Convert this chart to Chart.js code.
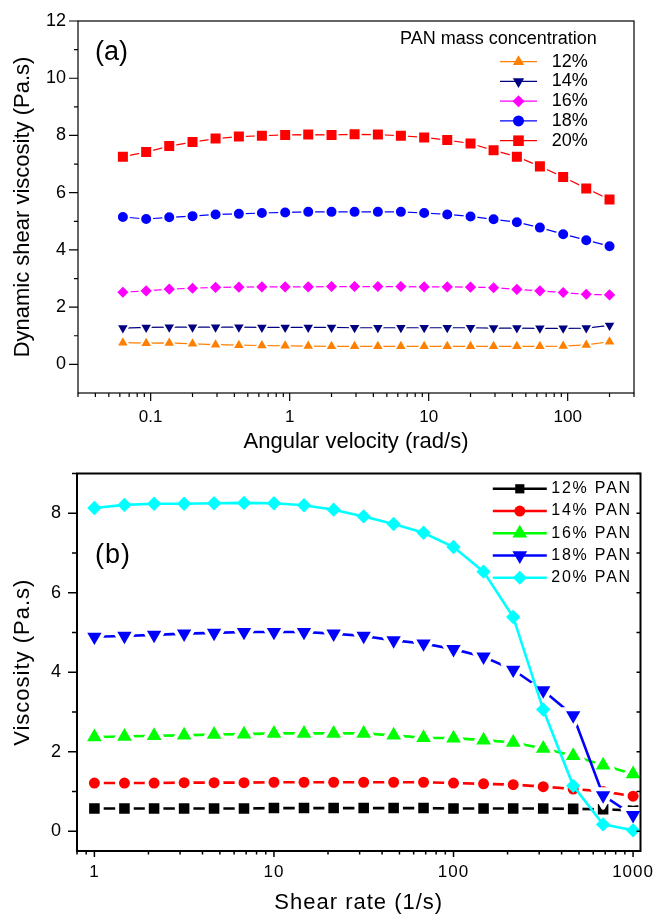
<!DOCTYPE html>
<html>
<head>
<meta charset="utf-8">
<title>PAN solution viscosity</title>
<script src="https://cdn.jsdelivr.net/npm/chart.js"></script>
<style>
  html, body { margin: 0; padding: 0; background: #fff; }
  .panel { position: relative; width: 657px; height: 457px; }
</style>
</head>
<body>
<div class="panel"><canvas id="chart-a"></canvas></div>
<div class="panel"><canvas id="chart-b"></canvas></div>
<script>
// (a) oscillatory sweep: angular velocity (rad/s) vs dynamic shear viscosity (Pa.s)
const angularVelocity = [0.0631, 0.0928, 0.136, 0.2, 0.293, 0.431, 0.631, 0.928, 1.36, 2, 2.93,
  4.31, 6.31, 9.28, 13.6, 20, 29.3, 43.1, 63.1, 92.8, 136, 200];
const dyn12 = [0.76, 0.74, 0.75, 0.72, 0.69, 0.67, 0.66, 0.65, 0.64, 0.63, 0.63, 0.63, 0.63, 0.63, 0.63, 0.63, 0.63, 0.63, 0.63, 0.64, 0.68, 0.79];
const dyn14 = [1.27, 1.29, 1.30, 1.30, 1.30, 1.30, 1.29, 1.29, 1.29, 1.29, 1.28, 1.28, 1.28, 1.28, 1.28, 1.28, 1.27, 1.27, 1.26, 1.26, 1.27, 1.36];
const dyn16 = [2.52, 2.57, 2.63, 2.66, 2.69, 2.70, 2.71, 2.71, 2.71, 2.72, 2.72, 2.72, 2.72, 2.71, 2.71, 2.70, 2.68, 2.62, 2.57, 2.51, 2.45, 2.43];
const dyn18 = [5.15, 5.08, 5.14, 5.18, 5.24, 5.26, 5.29, 5.31, 5.33, 5.33, 5.33, 5.33, 5.33, 5.29, 5.24, 5.17, 5.07, 4.97, 4.78, 4.55, 4.34, 4.13];
const dyn20 = [7.26, 7.42, 7.63, 7.77, 7.89, 7.96, 7.99, 8.02, 8.03, 8.02, 8.04, 8.03, 7.99, 7.93, 7.84, 7.72, 7.48, 7.26, 6.92, 6.55, 6.15, 5.76];
const labelsA = ['12%', '14%', '16%', '18%', '20%'];
const xTicksA = [0.1, 1, 10, 100];
const yTicksA = [0, 2, 4, 6, 8, 10, 12];

// (b) steady shear: shear rate (1/s) vs viscosity (Pa.s)
const shearRate = [1, 1.47, 2.15, 3.16, 4.64, 6.81, 10, 14.7, 21.5, 31.6, 46.4, 68.1, 100, 147, 215, 316, 464, 681, 1000];
const visc12 = [0.57, 0.57, 0.57, 0.57, 0.57, 0.57, 0.58, 0.58, 0.58, 0.58, 0.58, 0.58, 0.57, 0.57, 0.57, 0.57, 0.56, 0.55, 0.52];
const visc14 = [1.21, 1.21, 1.21, 1.22, 1.22, 1.22, 1.23, 1.23, 1.23, 1.23, 1.23, 1.23, 1.21, 1.19, 1.17, 1.12, 1.06, 1.00, 0.88];
const visc16 = [2.37, 2.38, 2.40, 2.41, 2.43, 2.44, 2.46, 2.46, 2.46, 2.46, 2.41, 2.35, 2.34, 2.29, 2.23, 2.08, 1.90, 1.66, 1.44];
const visc18 = [4.89, 4.91, 4.94, 4.97, 4.99, 5.01, 5.01, 5.01, 4.97, 4.91, 4.80, 4.72, 4.58, 4.39, 4.06, 3.54, 2.91, 0.90, 0.40];
const visc20 = [8.13, 8.21, 8.24, 8.24, 8.25, 8.26, 8.25, 8.20, 8.09, 7.92, 7.73, 7.51, 7.15, 6.53, 5.39, 3.06, 1.14, 0.17, 0.02];
const labelsB = ['12% PAN', '14% PAN', '16% PAN', '18% PAN', '20% PAN'];
const xTicksB = [1, 10, 100, 1000];
const yTicksB = [0, 2, 4, 6, 8];

const FONT = "'Liberation Sans', Arial, Helvetica, sans-serif";
Chart.defaults.font.family = FONT;
Chart.defaults.color = '#000';

const near = (list, v) => list.some(t => Math.abs(t - v) < 1e-9 * Math.max(1, Math.abs(t)));
const isDecade = v => { const l = Math.log10(v); return Math.abs(l - Math.round(l)) < 1e-6; };
const intMantissa = v => { const m = v / Math.pow(10, Math.floor(Math.log10(v) + 1e-9)); return Math.abs(m - Math.round(m)) < 1e-6; };

function series(xs, ys, label, color, look) {
  return Object.assign({
    label,
    data: xs.map((x, i) => ({ x, y: ys[i] })),
    showLine: true,
    clip: false,
    borderColor: color,
    backgroundColor: color,
    pointBackgroundColor: color,
    pointBorderColor: '#fff',
    pointHoverRadius: look.pointRadius
  }, look);
}

// box around the plot area plus outward tick marks (major at labelled ticks)
const framePlugin = {
  id: 'frame',
  beforeDatasetsDraw(chart) { chart.ctx.lineJoin = 'round'; },
  afterDatasetsDraw(chart, args, o) {
    const { ctx, chartArea: a, scales: { x, y } } = chart;
    ctx.save();
    ctx.strokeStyle = '#000';
    ctx.lineWidth = o.width;
    ctx.lineJoin = 'miter';
    ctx.strokeRect(a.left, a.top, a.right - a.left, a.bottom - a.top);
    ctx.lineWidth = o.tickWidth;
    ctx.beginPath();
    x.ticks.forEach(t => {
      const v = t.value;
      const len = isDecade(v) ? o.xMajor : (intMantissa(v) ? o.xMinor : 0);
      if (!len) return;
      const px = x.getPixelForValue(v);
      ctx.moveTo(px, a.bottom);
      ctx.lineTo(px, a.bottom + len);
    });
    y.ticks.forEach(t => {
      const v = t.value;
      if (!Number.isInteger(v) || v < 0) return;
      const py = y.getPixelForValue(v);
      ctx.moveTo(a.left, py);
      ctx.lineTo(a.left - (v % 2 === 0 ? o.yMajor : o.yMinor), py);
      if (o.rightTick) {
        ctx.moveTo(a.right, py);
        ctx.lineTo(a.right - o.rightTick, py);
      }
    });
    ctx.stroke();
    ctx.restore();
  }
};

// panel tag and the series key in the top right corner
const keyPlugin = {
  id: 'key',
  beforeLayout(chart, args, o) { chart.ctx.letterSpacing = o.chartSpacing; },
  beforeDraw(chart, args, o) { chart.ctx.letterSpacing = o.chartSpacing; },
  afterDraw(chart, args, o) {
    const { ctx, chartArea: a } = chart;
    ctx.save();
    ctx.textBaseline = 'middle';
    ctx.fillStyle = '#000';
    ctx.letterSpacing = o.chartSpacing;
    ctx.font = `27px ${FONT}`;
    ctx.textAlign = 'left';
    ctx.fillText(o.tag, a.left + o.tagX, a.top + o.tagY);

    ctx.font = `${o.size}px ${FONT}`;
    ctx.letterSpacing = o.spacing;
    if (o.title) {
      ctx.textAlign = 'center';
      ctx.fillText(o.title, a.right + o.titleX, a.top + o.titleY);
    }
    ctx.textAlign = 'left';
    chart.data.datasets.forEach((ds, row) => {
      const cy = a.top + o.top + row * o.step;
      const x0 = a.right + o.left;
      ctx.strokeStyle = ds.borderColor;
      ctx.lineWidth = ds.borderWidth;
      ctx.beginPath();
      ctx.moveTo(x0, cy);
      ctx.lineTo(x0 + o.line, cy);
      ctx.stroke();
      ctx.fillStyle = ds.backgroundColor;
      Chart.helpers.drawPoint(ctx, {
        pointStyle: ds.pointStyle, rotation: ds.pointRotation || 0,
        radius: ds.keyRadius, borderWidth: 0
      }, x0 + o.line / 2, cy);
      ctx.fillStyle = '#000';
      ctx.fillText(ds.label, x0 + o.line + o.gap, cy);
    });
    ctx.restore();
  }
};

function axisTitle(text, padding) {
  return { display: true, text, color: '#000', font: { size: 22, lineHeight: 1 }, padding };
}

// ---- panel (a)
const thinA = { borderWidth: 1.2, pointBorderWidth: 2 };
new Chart(document.getElementById('chart-a'), {
  type: 'scatter',
  data: {
    datasets: [
      series(angularVelocity, dyn12, labelsA[0], '#FF8000', { ...thinA, pointStyle: 'triangle', pointRadius: 7.5, keyRadius: 6.5, order: 5 }),
      series(angularVelocity, dyn14, labelsA[1], '#000080', { ...thinA, pointStyle: 'triangle', pointRotation: 180, pointRadius: 7.5, keyRadius: 6.5, order: 4 }),
      series(angularVelocity, dyn16, labelsA[2], '#FF00FF', { ...thinA, pointStyle: 'rectRot', pointRadius: 7, keyRadius: 6, order: 3 }),
      series(angularVelocity, dyn18, labelsA[3], '#0000FF', { ...thinA, pointStyle: 'circle', pointRadius: 6, keyRadius: 5.5, order: 2 }),
      series(angularVelocity, dyn20, labelsA[4], '#FF0000', { ...thinA, pointStyle: 'rect', pointRadius: 8.5, keyRadius: 7.5, order: 1 })
    ]
  },
  options: {
    responsive: true,
    maintainAspectRatio: false,
    animation: false,
    events: [],
    layout: { padding: { top: 21, right: 23, left: 0, bottom: 0 } },
    scales: {
      x: {
        type: 'logarithmic', min: 0.03, max: 300,
        afterFit: s => { s.height = 64; },
        grid: { display: false, tickLength: 8 },
        border: { display: false },
        ticks: { autoSkip: false, maxRotation: 0, padding: 6, font: { size: 17 },
          callback: v => near(xTicksA, v) ? String(v) : '' },
        title: axisTitle('Angular velocity (rad/s)', { top: 0, bottom: 4 })
      },
      y: {
        min: -1, max: 12,
        afterFit: s => { s.width = 78; },
        grid: { display: false, tickLength: 10 },
        border: { display: false },
        ticks: { stepSize: 1, autoSkip: false, padding: 2, font: { size: 18, lineHeight: 1 },
          callback: v => near(yTicksA, v) ? String(v) : '' },
        title: axisTitle('Dynamic shear viscosity (Pa.s)', { top: 12, bottom: 0 })
      }
    },
    plugins: {
      legend: { display: false },
      tooltip: { enabled: false },
      frame: { width: 1.2, tickWidth: 1.2, xMajor: 8, xMinor: 4, yMajor: 9, yMinor: 4, rightTick: 0 },
      key: {
        chartSpacing: '0px', spacing: '0px', tag: '(a)', tagX: 17, tagY: 31.5,
        size: 18, title: 'PAN mass concentration', titleX: -135.5, titleY: 18.3,
        top: 40.7, step: 19.75, left: -134, line: 37, gap: 14.7
      }
    }
  },
  plugins: [framePlugin, keyPlugin]
});

// ---- panel (b)
const thickB = { borderWidth: 2.6, pointBorderWidth: 4 };
new Chart(document.getElementById('chart-b'), {
  type: 'scatter',
  data: {
    datasets: [
      series(shearRate, visc12, labelsB[0], '#000000', { ...thickB, pointStyle: 'rect', pointRadius: 10.3, keyRadius: 6.5, order: 5 }),
      series(shearRate, visc14, labelsB[1], '#FF0000', { ...thickB, pointStyle: 'circle', pointRadius: 7.5, keyRadius: 5.5, order: 4 }),
      series(shearRate, visc16, labelsB[2], '#00FF00', { ...thickB, pointStyle: 'triangle', pointRadius: 12.5, keyRadius: 8.5, order: 3 }),
      series(shearRate, visc18, labelsB[3], '#0000FF', { ...thickB, pointStyle: 'triangle', pointRotation: 180, pointRadius: 12.3, keyRadius: 8.5, order: 2 }),
      series(shearRate, visc20, labelsB[4], '#00FFFF', { ...thickB, pointBorderWidth: 0, pointStyle: 'rectRot', pointRadius: 7.2, keyRadius: 7, order: 1 })
    ]
  },
  options: {
    responsive: true,
    maintainAspectRatio: false,
    animation: false,
    events: [],
    layout: { padding: { top: 12, right: 15, left: 0, bottom: 0 } },
    scales: {
      x: {
        type: 'logarithmic', min: 0.8, max: 1100,
        afterFit: s => { s.height = 63; },
        grid: { display: false, tickLength: 6 },
        border: { display: false },
        ticks: { autoSkip: false, maxRotation: 0, padding: 5, font: { size: 17 },
          callback: v => near(xTicksB, v) ? String(v) : '' },
        title: axisTitle('Shear rate (1/s)', { top: 0, bottom: 0 })
      },
      y: {
        min: -0.5, max: 9,
        afterFit: s => { s.width = 77; },
        grid: { display: false, tickLength: 13 },
        border: { display: false },
        ticks: { stepSize: 1, autoSkip: false, padding: 2, font: { size: 18, lineHeight: 1 },
          callback: v => near(yTicksB, v) ? String(v) : '' },
        title: axisTitle('Viscosity (Pa.s)', { top: 12, bottom: 0 })
      }
    },
    plugins: {
      legend: { display: false },
      tooltip: { enabled: false },
      frame: { width: 2, tickWidth: 1.5, xMajor: 6, xMinor: 3.5, yMajor: 9, yMinor: 5, rightTick: 4 },
      key: {
        chartSpacing: '1px', spacing: '1.8px', tag: '(b)', tagX: 18, tagY: 82,
        size: 16, title: '', top: 15.3, step: 22.25, left: -147.7, line: 54, gap: 4.4
      }
    }
  },
  plugins: [framePlugin, keyPlugin]
});
</script>
</body>
</html>
